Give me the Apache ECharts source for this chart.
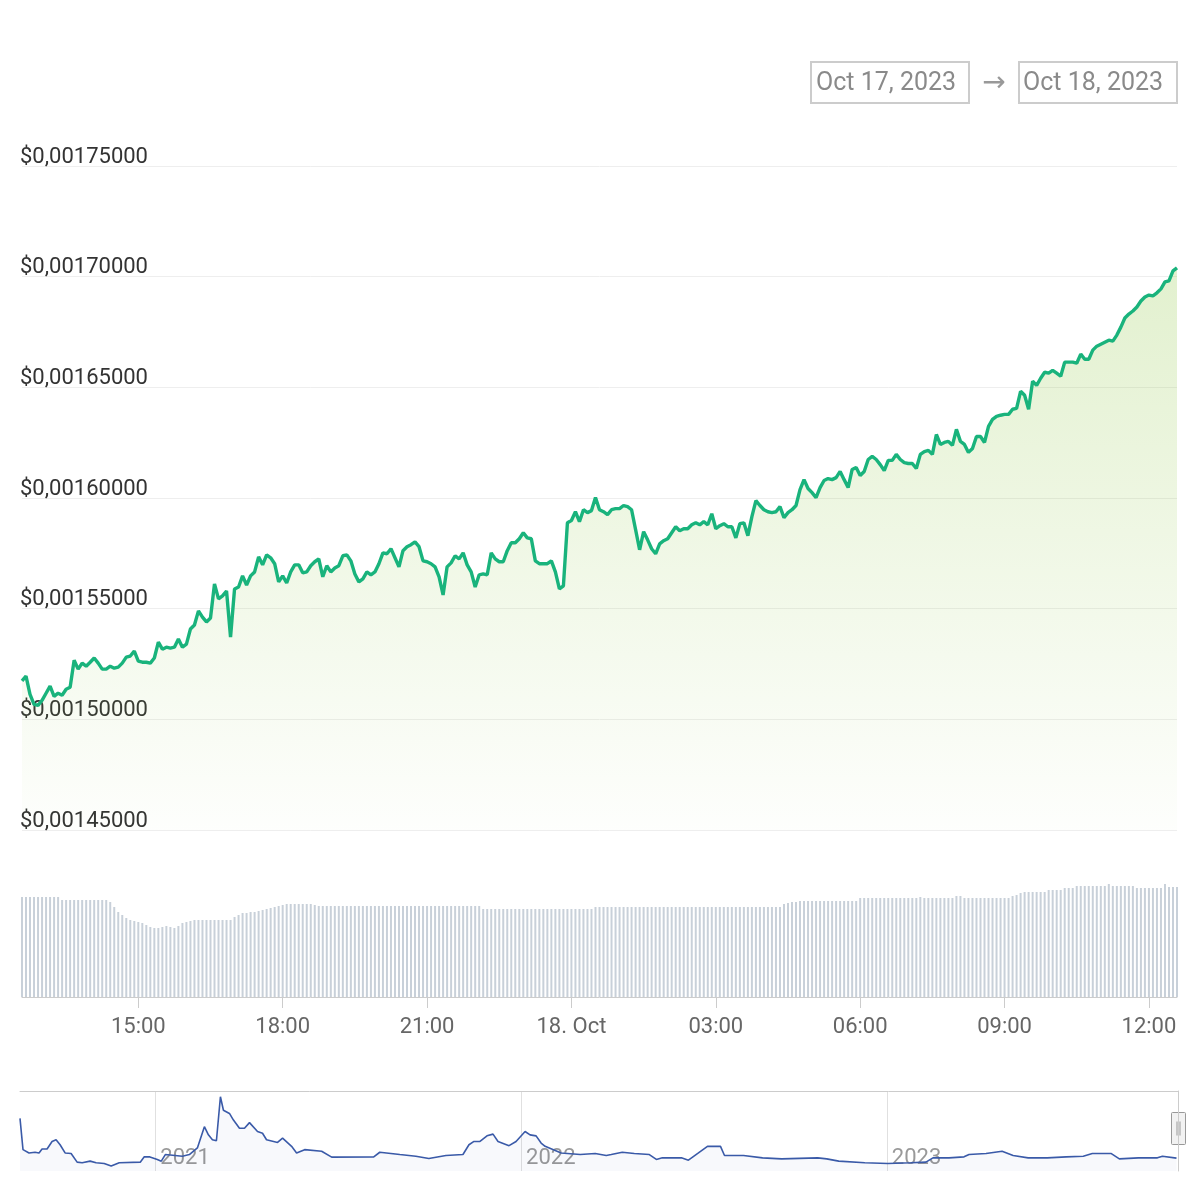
<!DOCTYPE html>
<html>
<head>
<meta charset="utf-8">
<script src="https://cdn.jsdelivr.net/npm/echarts@6/dist/echarts.min.js"></script>
<style>
  html, body { margin: 0; padding: 0; background: #fff; }
  #main { width: 1200px; height: 1200px; }
</style>
</head>
<body>
<div id="main"></div>
<script>
// 24h window, one point every 5 minutes (Oct 17 12:35 -> Oct 18 12:35, UTC)
var startTime = Date.UTC(2023, 9, 17, 12, 35);
var stepMinutes = 5;

var prices = [
	0.0015174, 0.0015195, 0.0015113, 0.0015068, 0.0015063, 0.0015086, 0.0015118, 0.0015150, 0.0015104, 0.0015118,
	0.0015109, 0.0015136, 0.0015145, 0.0015267, 0.0015227, 0.0015254, 0.0015240, 0.0015258, 0.0015277, 0.0015254,
	0.0015227, 0.0015227, 0.0015240, 0.0015231, 0.0015236, 0.0015254, 0.0015281, 0.0015286, 0.0015308, 0.0015263,
	0.0015258, 0.0015258, 0.0015254, 0.0015277, 0.0015349, 0.0015317, 0.0015326, 0.0015322, 0.0015326, 0.0015363,
	0.0015326, 0.0015340, 0.0015408, 0.0015426, 0.0015490, 0.0015462, 0.0015440, 0.0015458, 0.0015612, 0.0015544,
	0.0015558, 0.0015580, 0.0015372, 0.0015589, 0.0015598, 0.0015648, 0.0015607, 0.0015648, 0.0015666, 0.0015734,
	0.0015698, 0.0015743, 0.0015730, 0.0015703, 0.0015621, 0.0015648, 0.0015616, 0.0015666, 0.0015698, 0.0015698,
	0.0015662, 0.0015666, 0.0015694, 0.0015712, 0.0015725, 0.0015644, 0.0015694, 0.0015666, 0.0015684, 0.0015694,
	0.0015739, 0.0015743, 0.0015716, 0.0015657, 0.0015621, 0.0015635, 0.0015666, 0.0015653, 0.0015666, 0.0015703,
	0.0015752, 0.0015748, 0.0015771, 0.0015730, 0.0015689, 0.0015762, 0.0015780, 0.0015789, 0.0015802, 0.0015780,
	0.0015716, 0.0015712, 0.0015703, 0.0015689, 0.0015644, 0.0015562, 0.0015689, 0.0015707, 0.0015739, 0.0015725,
	0.0015752, 0.0015698, 0.0015666, 0.0015598, 0.0015653, 0.0015657, 0.0015653, 0.0015752, 0.0015725, 0.0015712,
	0.0015712, 0.0015762, 0.0015798, 0.0015798, 0.0015816, 0.0015843, 0.0015820, 0.0015816, 0.0015716, 0.0015703,
	0.0015703, 0.0015703, 0.0015716, 0.0015666, 0.0015589, 0.0015603, 0.0015888, 0.0015898, 0.0015938, 0.0015893,
	0.0015947, 0.0015934, 0.0015943, 0.0016002, 0.0015947, 0.0015938, 0.0015925, 0.0015947, 0.0015952, 0.0015952,
	0.0015966, 0.0015961, 0.0015947, 0.0015857, 0.0015766, 0.0015848, 0.0015811, 0.0015771, 0.0015748, 0.0015793,
	0.0015807, 0.0015816, 0.0015843, 0.0015870, 0.0015852, 0.0015861, 0.0015861, 0.0015879, 0.0015888, 0.0015879,
	0.0015893, 0.0015879, 0.0015929, 0.0015861, 0.0015875, 0.0015884, 0.0015870, 0.0015870, 0.0015820, 0.0015884,
	0.0015888, 0.0015830, 0.0015916, 0.0015988, 0.0015966, 0.0015947, 0.0015938, 0.0015934, 0.0015938, 0.0015961,
	0.0015911, 0.0015934, 0.0015947, 0.0015966, 0.0016038, 0.0016083, 0.0016043, 0.0016024, 0.0016002, 0.0016047,
	0.0016079, 0.0016088, 0.0016083, 0.0016092, 0.0016120, 0.0016083, 0.0016047, 0.0016129, 0.0016138, 0.0016102,
	0.0016120, 0.0016174, 0.0016188, 0.0016174, 0.0016151, 0.0016124, 0.0016170, 0.0016170, 0.0016197, 0.0016174,
	0.0016160, 0.0016156, 0.0016156, 0.0016133, 0.0016197, 0.0016210, 0.0016215, 0.0016197, 0.0016287, 0.0016242,
	0.0016251, 0.0016256, 0.0016238, 0.0016310, 0.0016256, 0.0016242, 0.0016206, 0.0016224, 0.0016278, 0.0016278,
	0.0016251, 0.0016324, 0.0016355, 0.0016369, 0.0016374, 0.0016378, 0.0016378, 0.0016401, 0.0016405, 0.0016482,
	0.0016464, 0.0016401, 0.0016528, 0.0016509, 0.0016541, 0.0016568, 0.0016564, 0.0016577, 0.0016564, 0.0016550,
	0.0016614, 0.0016614, 0.0016614, 0.0016609, 0.0016650, 0.0016627, 0.0016627, 0.0016668, 0.0016686, 0.0016695,
	0.0016704, 0.0016713, 0.0016709, 0.0016736, 0.0016772, 0.0016813, 0.0016831, 0.0016845, 0.0016863, 0.0016890,
	0.0016908, 0.0016917, 0.0016913, 0.0016927, 0.0016945, 0.0016976, 0.0016981, 0.0017026, 0.0017040
];

// rolling volume, arbitrary units (axis is hidden)
var volumes = [
	100, 100, 100, 100, 100, 100, 100, 100, 100, 100,
	97, 97, 97, 97, 97, 97, 97, 97, 97, 97, 97, 97,
	95, 90, 85, 82, 79, 77, 76, 75, 74, 72, 70, 69, 69, 70, 71, 70, 69, 71, 74, 75, 76,
	77, 77, 77, 77, 77, 77, 77, 77, 77, 77,
	80, 82, 84, 84, 85, 85, 86, 87, 88, 89, 90, 91, 92,
	93, 93, 93, 93, 93, 93, 93, 92,
	91, 91, 91, 91, 91, 91, 91, 91, 91, 91, 91, 91, 91, 91, 91, 91, 91, 91, 91, 91, 91,
	91, 91, 91, 91, 91, 91, 91, 91, 91, 91, 91, 91, 91, 91, 91, 91, 91, 91, 91, 91,
	88, 88, 88, 88, 88, 88, 88, 88, 88, 88, 88, 88, 88, 88,
	88, 88, 88, 88, 88, 88, 88, 88, 88, 88, 88, 88, 88, 88,
	90, 90, 90, 90, 90, 90, 90, 90, 90, 90, 90, 90, 90, 90, 90, 90, 90, 90, 90, 90, 90, 90, 90, 90,
	90, 90, 90, 90, 90, 90, 90, 90, 90, 90, 90, 90, 90, 90, 90, 90, 90, 90, 90, 90, 90, 90, 90,
	93, 94, 95, 95,
	96, 96, 96, 96, 96, 96, 96, 96, 96, 96, 96, 96, 96, 96, 96,
	99, 99, 99, 99, 99, 99, 99, 99, 99, 99, 99, 99, 99, 99, 99,
	100, 99, 99, 99, 99, 99, 99, 99, 99, 101, 101,
	99, 99, 99, 99, 99, 99, 99, 99, 99, 99, 99, 99,
	101, 102, 104, 105, 105, 105, 105, 105, 105, 107, 107, 107, 107, 109, 109, 109,
	111, 111, 111, 111, 111, 111, 111, 111, 113, 111, 111, 111, 111, 111, 111,
	109, 109, 109, 109, 109, 109, 109, 113, 110, 110, 110
];

// navigator: full history, day offset from 2021-01-01 and price
var navDays = [
	-135, -132, -126, -120, -116, -113, -108, -103, -99, -95,
	-90, -84, -78, -73, -65, -59, -51, -44, -36, -15,
	-11, -6, 2, 6, 10, 27, 34, 42, 49, 53,
	57, 61, 65, 68, 74, 78, 84, 89, 94, 102,
	107, 111, 122, 127, 136, 141, 149, 166, 176, 218,
	224, 244, 260, 273, 290, 307, 313, 318, 324, 331,
	337, 342, 353, 360, 369, 374, 380, 385, 389, 405,
	424, 439, 450, 455, 466, 478, 493, 500, 506, 517,
	525, 532, 542, 551, 564, 568, 587, 606, 625, 661,
	670, 682, 708, 731, 754, 769, 776, 792, 807, 812,
	829, 845, 856, 871, 890, 909, 926, 935, 954, 962,
	981, 1000, 1005, 1019
];
var navPrices = [
	0.004479, 0.002295, 0.002064, 0.002113, 0.002064, 0.002344, 0.002344, 0.002869, 0.002988, 0.002638,
	0.002064, 0.002022, 0.00142, 0.001378, 0.00149, 0.001378, 0.001329, 0.001147, 0.001378, 0.00142,
	0.001791, 0.001791, 0.001609, 0.00149, 0.001952, 0.001833, 0.001952, 0.002414, 0.003905, 0.003331,
	0.002988, 0.002918, 0.006, 0.005053, 0.004829, 0.004367, 0.003793, 0.003793, 0.004185, 0.003562,
	0.003443, 0.002988, 0.002799, 0.0031, 0.002526, 0.002064, 0.002295, 0.002183, 0.00177, 0.001791,
	0.002113, 0.001952, 0.001833, 0.001672, 0.001882, 0.001952, 0.002638, 0.002869, 0.002869, 0.003261,
	0.00338, 0.002869, 0.002575, 0.002869, 0.003562, 0.003331, 0.003261, 0.002757, 0.002526, 0.002064,
	0.001952, 0.002022, 0.001882, 0.001952, 0.002113, 0.002022, 0.001952, 0.001609, 0.001721, 0.001721,
	0.001721, 0.00156, 0.002064, 0.002526, 0.002526, 0.001882, 0.001882, 0.001721, 0.001651, 0.001721,
	0.001651, 0.00149, 0.001378, 0.001329, 0.001378, 0.00142, 0.001721, 0.001721, 0.001791, 0.001952,
	0.002022, 0.002183, 0.001882, 0.001721, 0.001721, 0.001791, 0.001833, 0.002022, 0.002022, 0.001651,
	0.001721, 0.001721, 0.001833, 0.0017
];

var rangeFrom = 'Oct 17, 2023';
var rangeTo = 'Oct 18, 2023';
var monthNames = ['Jan', 'Feb', 'Mar', 'Apr', 'May', 'Jun', 'Jul', 'Aug', 'Sep', 'Oct', 'Nov', 'Dec'];

var font = 'Roboto, "Noto Sans", sans-serif';

var times = prices.map(function (p, i) {
	return startTime + i * stepMinutes * 60000;
});
var categories = times.map(function (t) {
	var d = new Date(t);
	var h = d.getUTCHours(), m = d.getUTCMinutes();
	return (h < 10 ? '0' : '') + h + ':' + (m < 10 ? '0' : '') + m;
});

// show ticks and labels every 3 hours
var every3h = function (index) {
	var d = new Date(times[index]);
	return d.getUTCMinutes() === 0 && d.getUTCHours() % 3 === 0;
};

var navStart = Date.UTC(2021, 0, 1);
var navData = navDays.map(function (d, i) {
	return [navStart + d * 86400000, navPrices[i]];
});

var myChart = echarts.init(document.getElementById('main'), null, { renderer: 'canvas' });

var option = {
	animation: false,
	useUTC: true,
	backgroundColor: '#ffffff',
	grid: [
		{ left: 22, right: 23, top: 166, height: 664 },
		{ left: 22, right: 23, top: 877, height: 120 },
		{ left: 20, right: 22, top: 1091, height: 80 }
	],
	xAxis: [
		{
			type: 'category', gridIndex: 0, data: categories, boundaryGap: false, show: false
		},
		{
			type: 'category', gridIndex: 1, data: categories, boundaryGap: false,
			axisLine: { lineStyle: { color: '#cccccc', width: 1 } },
			axisTick: { interval: every3h, length: 11, lineStyle: { color: '#cccccc' } },
			axisLabel: {
				interval: every3h,
				margin: 19,
				color: '#666666',
				fontSize: 22,
				fontFamily: font,
				formatter: function (value, index) {
					var d = new Date(times[index]);
					if (d.getUTCHours() === 0) {
						return d.getUTCDate() + '. ' + monthNames[d.getUTCMonth()];
					}
					return value;
				}
			}
		},
		{
			type: 'time', gridIndex: 2, position: 'bottom',
			min: Date.UTC(2020, 7, 19), max: times[times.length - 1],
			splitNumber: 3,
			axisLine: { show: false },
			axisTick: { show: false },
			splitLine: { show: true, showMinLine: false, showMaxLine: false, lineStyle: { color: '#e0e0e0' } },
			axisLabel: {
				inside: true,
				align: 'left',
				margin: 2,
				padding: [0, 0, 0, 5],
				color: '#999999',
				fontSize: 22,
				fontFamily: font,
				formatter: function (value) {
					var d = new Date(value);
					if (d.getUTCMonth() === 0 && d.getUTCDate() === 1) {
						return String(d.getUTCFullYear());
					}
					return '';
				}
			}
		},
		{
			type: 'time', gridIndex: 2, position: 'top',
			min: Date.UTC(2020, 7, 19), max: times[times.length - 1],
			axisLine: { show: true, lineStyle: { color: '#cccccc' } },
			axisTick: { show: false },
			axisLabel: { show: false },
			splitLine: { show: false }
		}
	],
	yAxis: [
		{
			type: 'value', gridIndex: 0,
			min: 0.00145, max: 0.00175, interval: 0.00005,
			axisLine: { show: false },
			axisTick: { show: false },
			splitLine: { lineStyle: { color: '#eeeeee' } },
			axisLabel: {
				inside: true,
				margin: -2,
				verticalAlign: 'bottom',
				lineHeight: 18,
				color: '#333333',
				fontSize: 22,
				fontFamily: font,
				showMinLabel: true,
				showMaxLabel: true,
				formatter: function (v) {
					return '$' + v.toFixed(8).replace('.', ',');
				}
			}
		},
		{
			type: 'value', gridIndex: 1, min: 0, max: 120, show: false
		},
		{
			type: 'value', gridIndex: 2, min: 0.0008, max: 0.0064, position: 'right',
			axisLine: { show: true, lineStyle: { color: '#cccccc' } },
			axisTick: { show: false },
			axisLabel: { show: false },
			splitLine: { show: false }
		}
	],
	series: [
		{
			name: 'Price',
			type: 'line',
			xAxisIndex: 0, yAxisIndex: 0,
			data: prices,
			showSymbol: false,
			lineStyle: { color: '#19b37c', width: 3.4 },
			itemStyle: { color: '#19b37c' },
			areaStyle: {
				color: new echarts.graphic.LinearGradient(0, 0, 0, 1, [
					{ offset: 0, color: 'rgba(141,198,63,0.36)' },
					{ offset: 1, color: 'rgba(141,198,63,0.02)' }
				])
			}
		},
		{
			name: 'Volume',
			type: 'bar',
			xAxisIndex: 1, yAxisIndex: 1,
			data: volumes,
			barWidth: 2,
			itemStyle: { color: '#c8d0d9' }
		},
		{
			name: 'History',
			type: 'line',
			xAxisIndex: 2, yAxisIndex: 2,
			data: navData,
			showSymbol: false,
			lineStyle: { color: '#3a5aa8', width: 1.6 },
			areaStyle: { color: 'rgba(51,92,173,0.05)' }
		}
	],
	graphic: [
		{
			type: 'rect', shape: { x: 811, y: 62, width: 158, height: 41 },
			style: { fill: '#ffffff', stroke: '#cccccc', lineWidth: 2 }
		},
		{
			type: 'text', x: 816, y: 84,
			style: { text: rangeFrom, fill: '#8a8a8a', fontSize: 25, fontFamily: font, verticalAlign: 'middle' }
		},
		{
			type: 'text', x: 994, y: 84,
			style: { text: '\u2192', fill: '#999999', fontSize: 28, fontFamily: '"DejaVu Sans", sans-serif', align: 'center', verticalAlign: 'middle' }
		},
		{
			type: 'rect', shape: { x: 1019, y: 62, width: 158, height: 41 },
			style: { fill: '#ffffff', stroke: '#cccccc', lineWidth: 2 }
		},
		{
			type: 'text', x: 1023, y: 84,
			style: { text: rangeTo, fill: '#8a8a8a', fontSize: 25, fontFamily: font, verticalAlign: 'middle' }
		},
		{
			type: 'group', left: 1171, top: 1112,
			children: [
				{ type: 'rect', shape: { x: 0, y: 0, width: 14, height: 32, r: 1 }, style: { fill: '#f2f2f2', stroke: '#999999', lineWidth: 1 } },
				{ type: 'line', shape: { x1: 5.5, y1: 9, x2: 5.5, y2: 23 }, style: { stroke: '#999999', lineWidth: 1 } },
				{ type: 'line', shape: { x1: 8.5, y1: 9, x2: 8.5, y2: 23 }, style: { stroke: '#999999', lineWidth: 1 } }
			]
		}
	]
};

myChart.setOption(option);
</script>
</body>
</html>
